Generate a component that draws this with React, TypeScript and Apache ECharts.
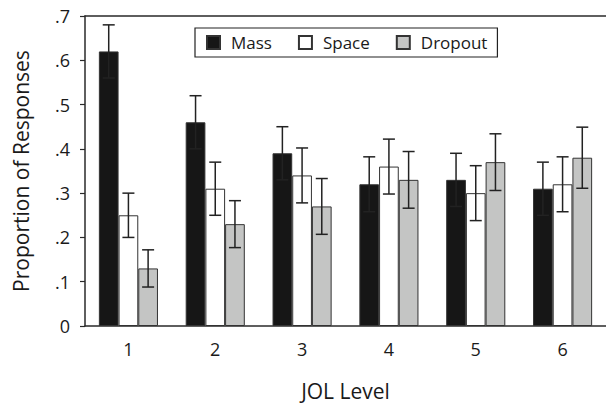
import React, { useEffect, useRef } from "react";
import * as echarts from "echarts";

const categories = ["1", "2", "3", "4", "5", "6"];
const seriesNames = ["Mass", "Space", "Dropout"];
const massValues = [0.62, 0.46, 0.39, 0.32, 0.33, 0.31];
const spaceValues = [0.25, 0.31, 0.34, 0.36, 0.3, 0.32];
const dropoutValues = [0.13, 0.23, 0.27, 0.33, 0.37, 0.38];
const massErr = [0.06, 0.06, 0.06, 0.062, 0.06, 0.06];
const spaceErr = [0.05, 0.06, 0.062, 0.062, 0.062, 0.062];
const dropoutErr = [0.042, 0.053, 0.063, 0.064, 0.064, 0.069];
const yTicks = [0, 0.1, 0.2, 0.3, 0.4, 0.5, 0.6, 0.7];

const FONT = "'Open Sans', sans-serif";
const BAR_W = 19.7;
const AXIS_COLOR = "#2a2a2a";

export default function App() {
  const ref = useRef<HTMLDivElement>(null);
  useEffect(() => {
    document.body.style.margin = "0";
    if (!ref.current) return;
    const chart = echarts.init(ref.current, undefined, { renderer: "svg" });
    const values = [massValues, spaceValues, dropoutValues];
    const errs = [massErr, spaceErr, dropoutErr];
    const colors = ["#161616", "#ffffff", "#c4c5c4"];

    const barSeries = values.map((v, i) => ({
      name: seriesNames[i],
      type: "bar",
      data: v,
      barWidth: BAR_W,
      barGap: "0%",
      itemStyle: { color: colors[i], borderColor: "#333", borderWidth: 1 },
      z: 2,
    }));

    const errSeries = values.map((v, i) => ({
      type: "custom",
      name: "err" + i,
      data: v.map((val, j) => [j, val, errs[i][j]]),
      encode: { x: 0, y: 1 },
      z: 5,
      silent: true,
      renderItem: (params: any, api: any) => {
        const c = api.value(0);
        const val = api.value(1);
        const e = api.value(2);
        const hi = api.coord([c, val + e]);
        const lo = api.coord([c, val - e]);
        const x = hi[0] + (i - 1) * BAR_W;
        const cap = 6;
        const style = { stroke: "#222", lineWidth: 1.5 };
        return {
          type: "group",
          children: [
            { type: "line", shape: { x1: x, y1: hi[1], x2: x, y2: lo[1] }, style },
            { type: "line", shape: { x1: x - cap, y1: hi[1], x2: x + cap, y2: hi[1] }, style },
            { type: "line", shape: { x1: x - cap, y1: lo[1], x2: x + cap, y2: lo[1] }, style },
          ],
        };
      },
    }));

    chart.setOption({
      animation: false,
      backgroundColor: "#ffffff",
      textStyle: { fontFamily: FONT },
      grid: { left: 85, right: -4, top: 16, bottom: 77 },
      legend: {
        data: seriesNames,
        left: 195,
        top: 28,
        icon: "rect",
        itemWidth: 13,
        itemHeight: 13,
        itemGap: 26,
        padding: [6, 10, 6, 11],
        borderColor: "#222",
        borderWidth: 1.2,
        backgroundColor: "#ffffff",
        textStyle: { fontFamily: FONT, fontSize: 17, color: "#1a1a1a", padding: [0, 0, 0, 6] },
      },
      xAxis: [
        {
          type: "category",
          data: categories,
          axisLine: { lineStyle: { color: AXIS_COLOR, width: 1.5 } },
          axisTick: { show: false },
          axisLabel: { fontFamily: FONT, fontSize: 18, color: "#1a1a1a", margin: 14 },
          name: "JOL Level",
          nameLocation: "middle",
          nameGap: 54,
          nameTextStyle: { fontFamily: FONT, fontSize: 21, color: "#1a1a1a" },
        },
        {
          type: "category",
          data: categories,
          position: "top",
          axisLine: { show: true, lineStyle: { color: AXIS_COLOR, width: 1.5 } },
          axisTick: { show: false },
          axisLabel: { show: false },
        },
      ],
      yAxis: {
        type: "value",
        min: 0,
        max: 0.7,
        interval: 0.1,
        axisLine: { show: true, lineStyle: { color: AXIS_COLOR, width: 1.5 } },
        axisTick: { show: true, length: 5, lineStyle: { color: AXIS_COLOR, width: 1.2 } },
        splitLine: { show: false },
        axisLabel: {
          fontFamily: FONT,
          fontSize: 18,
          color: "#1a1a1a",
          margin: 15,
          formatter: (v: number) => {
            const t = yTicks.find((y) => Math.abs(y - v) < 1e-6);
            const val = t === undefined ? v : t;
            return val === 0 ? "0" : "." + Math.round(val * 10);
          },
        },
        name: "Proportion of Responses",
        nameLocation: "middle",
        nameGap: 54,
        nameTextStyle: { fontFamily: FONT, fontSize: 21, color: "#1a1a1a" },
      },
      series: [...barSeries, ...errSeries],
    });
    return () => chart.dispose();
  }, []);
  return <div ref={ref} style={{ width: 606, height: 406 }} />;
}
